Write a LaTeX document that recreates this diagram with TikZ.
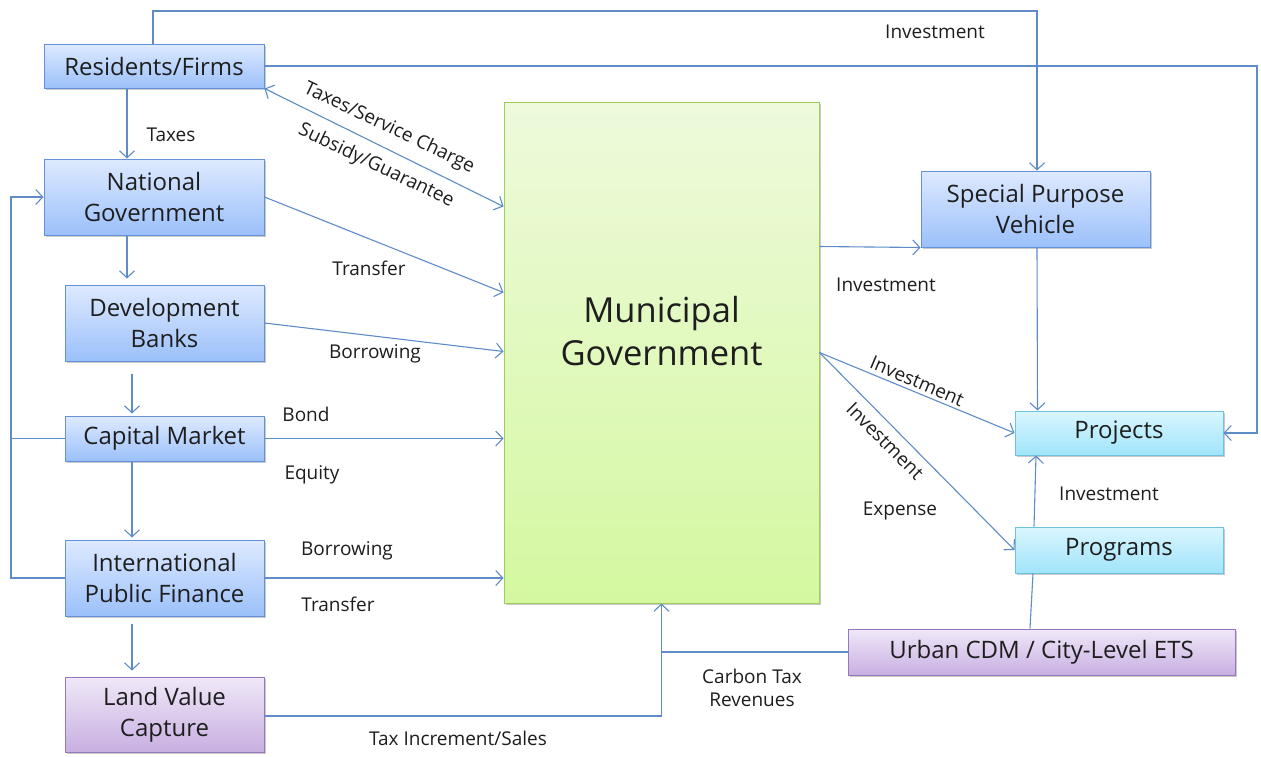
\documentclass[tikz,border=0pt]{standalone}
\usepackage{fontspec}
\setmainfont{Open Sans}
\usetikzlibrary{arrows.meta,shadows,calc}
\definecolor{lineblue}{RGB}{95,140,200}
\definecolor{bluetop}{RGB}{222,234,255}
\definecolor{bluebot}{RGB}{155,192,250}
\definecolor{blueedge}{RGB}{100,145,215}
\definecolor{cyantop}{RGB}{218,246,255}
\definecolor{cyanbot}{RGB}{160,228,250}
\definecolor{cyanedge}{RGB}{110,195,220}
\definecolor{purtop}{RGB}{240,232,248}
\definecolor{purbot}{RGB}{200,175,225}
\definecolor{puredge}{RGB}{150,120,190}
\definecolor{grtop}{RGB}{238,250,220}
\definecolor{grbot}{RGB}{212,248,160}
\definecolor{gredge}{RGB}{160,205,90}
\definecolor{txt}{RGB}{30,30,30}
\begin{document}
\begin{tikzpicture}[x=1pt,y=-1pt,
  base/.style={line width=1pt, inner sep=0pt, align=center, text=txt,
    font=\fontsize{24}{31}\selectfont,
    drop shadow={shadow xshift=2pt, shadow yshift=-2pt, opacity=0.35, fill=black!60}},
  bluebox/.style={base, draw=blueedge, top color=bluetop, bottom color=bluebot},
  cyanbox/.style={base, draw=cyanedge, top color=cyantop, bottom color=cyanbot},
  purplebox/.style={base, draw=puredge, top color=purtop, bottom color=purbot},
  greenbox/.style={base, draw=gredge, top color=grtop, bottom color=grbot},
  bigtext/.style={inner sep=0pt, align=center, text=txt, font=\fontsize{34.5}{43}\selectfont},
  conn/.style={draw=lineblue, line width=1.1pt},
  flow/.style={conn, -{Straight Barb[length=7pt,width=15pt,line width=1.1pt]}},
  biflow/.style={conn, {Straight Barb[length=7pt,width=15pt,line width=1.1pt]}-{Straight Barb[length=7pt,width=15pt,line width=1.1pt]}},
  lab/.style={inner sep=0pt, text=txt, font=\fontsize{19}{23}\selectfont, align=center}]
\useasboundingbox (0,0) rectangle (1261,756);
\fill[white] (0,0) rectangle (1261,756);

% nodes
\node[bluebox, minimum width=220, minimum height=44] (res) at (154,66) {Residents/Firms};
\node[bluebox, minimum width=220, minimum height=76] (natl) at (154,197) {National\\Government};
\node[bluebox, minimum width=199, minimum height=76] (dev) at (164.5,323) {Development\\Banks};
\node[bluebox, minimum width=199, minimum height=45] (cap) at (164.5,438.5) {Capital Market};
\node[bluebox, minimum width=199, minimum height=76] (ipf) at (164.5,578) {International\\Public Finance};
\node[purplebox, minimum width=199, minimum height=75] (lvc) at (164.5,714.5) {Land Value\\Capture};
\node[greenbox, minimum width=315, minimum height=501] (mun) at (661.5,352.5) {};
\node[bigtext] (muntext) at (661.5,331) {Municipal\\Government};
\node[bluebox, minimum width=229, minimum height=76] (spv) at (1035.5,209) {Special Purpose\\Vehicle};
\node[cyanbox, minimum width=208, minimum height=44] (proj) at (1119,433) {Projects};
\node[cyanbox, minimum width=208, minimum height=46] (prog) at (1119,550) {Programs};
\node[purplebox, minimum width=387, minimum height=46] (cdm) at (1041.5,652) {Urban CDM / City-Level ETS};

% helper coordinates
\coordinate (topy) at (0,11);
\coordinate (rightx) at (1257,0);
\coordinate (leftx) at (11,0);
\coordinate (mo) at ($(mun.north east)+(0,251)$);

% connectors
\draw[flow] ([xshift=-1pt]res.north) -- ([xshift=-1pt]res.north |- topy) -| ([xshift=1.5pt]spv.north);
\draw[flow] (res.east) -- (res.east -| rightx) |- (proj.east);
\draw[flow] ([xshift=-27pt]res.south) -- ([xshift=-27pt]natl.north);
\draw[biflow] (res.south east) -- ($(mun.north west)+(0,105)$);
\draw[flow] (natl.east) -- ($(mun.north west)+(0,191)$);
\draw[flow, shorten >=6pt] ([xshift=-27pt]natl.south) -- ([xshift=-37.5pt]dev.north);
\draw[flow] (dev.east) -- ($(mun.north west)+(0,250)$);
\draw[flow, shorten <=12pt, shorten >=2pt] ([xshift=-32.5pt]dev.south) -- ([xshift=-32.5pt]cap.north);
\draw[flow] (cap.east) -- (cap.east -| mun.west);
\draw[flow, shorten >=2pt] ([xshift=-32.5pt]cap.south) -- ([xshift=-32.5pt]ipf.north);
\draw[flow] (ipf.east) -- (ipf.east -| mun.west);
\draw[flow, shorten <=7pt, shorten >=6pt] ([xshift=-32.5pt]ipf.south) -- ([xshift=-32.5pt]lvc.north);
\draw[conn] (cap.west) -- (cap.west -| leftx);
\draw[flow] (ipf.west) -- (ipf.west -| leftx) -- (natl.west -| leftx) -- (natl.west);
\draw[flow] ([yshift=-1.5pt]lvc.east) -| (mun.south);
\draw[conn] (cdm.west) -- (cdm.west -| mun.south);
\draw[conn] ([xshift=-11.5pt]cdm.north) -- ([xshift=-86pt]prog.south);
\draw[flow] ([xshift=-85pt]prog.north) -- ([xshift=-83pt]proj.south);
\draw[flow] ($(mun.north east)+(0,145)$) -- (spv.south west);
\draw[flow] ([xshift=1.5pt]spv.south) -- ([xshift=-81.5pt]proj.north);
\draw[flow] (mo) -- (proj.west);
\draw[flow] (mo) -- (prog.west);

% labels
\node[lab] (l1) at (935,32) {Investment};
\node[lab] (l2) at (171,135) {Taxes};
\node[lab, rotate=-25.5] (l3) at (389,128) {Taxes/Service Charge};
\node[lab, rotate=-25.5] (l4) at (376,166) {Subsidy/Guarantee};
\node[lab] (l5) at (369,268) {Transfer};
\node[lab] (l6) at (375,354) {Borrowing};
\node[lab] (l7) at (306,414) {Bond};
\node[lab] (l8) at (312,475) {Equity};
\node[lab] (l9) at (347,551) {Borrowing};
\node[lab] (l10) at (338,604) {Transfer};
\node[lab] (l11) at (458,738) {Tax Increment/Sales};
\node[lab] (l12) at (752,688) {Carbon Tax\\Revenues};
\node[lab] (l13) at (886,285) {Investment};
\node[lab, rotate=-23] (l14) at (917,381) {Investment};
\node[lab, rotate=-45] (l15) at (885,441) {Investment};
\node[lab] (l16) at (900,511) {Expense};
\node[lab] (l17) at (1109,494) {Investment};
\end{tikzpicture}
\end{document}
